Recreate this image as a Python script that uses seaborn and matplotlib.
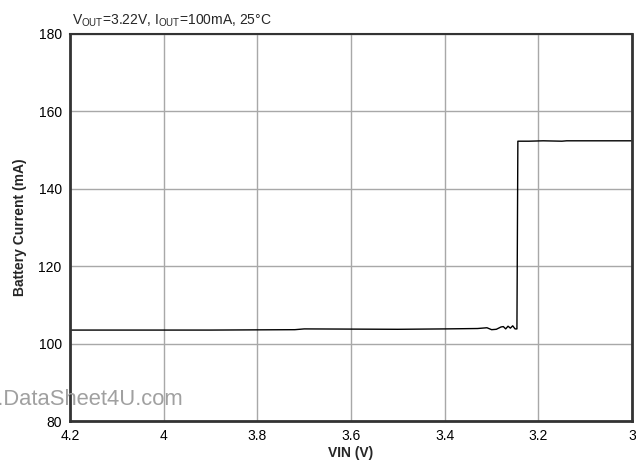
import matplotlib
matplotlib.use('Agg')
import matplotlib.pyplot as plt
import seaborn as sns
import pandas as pd

# Battery current vs input voltage
vin = [4.2, 3.9, 3.72, 3.70, 3.5, 3.40, 3.33, 3.31, 3.30, 3.29, 3.28, 3.275, 3.27,
       3.265, 3.26, 3.255, 3.25, 3.246, 3.244, 3.22, 3.19, 3.15, 3.14, 3.0]
ibat = [103.5, 103.5, 103.6, 103.8, 103.7, 103.8, 103.9, 104.1, 103.6, 103.7, 104.3, 104.4,
        103.8, 104.5, 104.0, 104.6, 103.8, 103.8, 152.3, 152.3, 152.4, 152.3, 152.4, 152.4]

xticks = [4.2, 4.0, 3.8, 3.6, 3.4, 3.2, 3.0]
xticklabels = ['4.2', '4', '3.8', '3.6', '3.4', '3.2', '3']
yticks = [80, 100, 120, 140, 160, 180]

df = pd.DataFrame({'vin': vin, 'ibat': ibat})

sns.set_theme(style='white')
plt.rcParams['font.family'] = ['Liberation Sans', 'DejaVu Sans']
plt.rcParams['mathtext.fontset'] = 'custom'
plt.rcParams['mathtext.rm'] = 'Liberation Sans'

fig, ax = plt.subplots(figsize=(6.36, 4.72), dpi=100)
fig.subplots_adjust(left=0.110, right=0.994, top=0.928, bottom=0.108)

sns.lineplot(data=df, x='vin', y='ibat', sort=False, color='black', linewidth=1.0, ax=ax)

ax.set_xlim(4.2, 3.0)
ax.set_ylim(80, 180)
ax.set_xticks(xticks)
ax.set_xticklabels(xticklabels)
ax.set_yticks(yticks)
ax.grid(True, color='#a8a8a8', linewidth=1.0)
ax.tick_params(labelsize=10, colors='black', length=0, pad=6)

for side, sp in ax.spines.items():
    sp.set_color('#333333')
    sp.set_linewidth(2.0 if side in ('left', 'bottom', 'right') else 1.5)

ax.set_xlabel('VIN (V)', fontsize=10, fontweight='bold', labelpad=2)
ax.set_ylabel('Battery Current (mA)', fontsize=10, fontweight='bold', labelpad=8)

ax.text(0.003, 1.012, r'V$_{\mathrm{OUT}}$=3.22V, I$_{\mathrm{OUT}}$=100mA, 25°C',
        transform=ax.transAxes, fontsize=10, ha='left', va='bottom')

# watermark, partly running off the left edge as in the reference
fig.text(183 / 636, 1 - 405 / 472, 'www.DataSheet4U.com', fontsize=15.8, color='#a0a0a0',
         ha='right', va='baseline')

fig.savefig('out.png', dpi=100)
